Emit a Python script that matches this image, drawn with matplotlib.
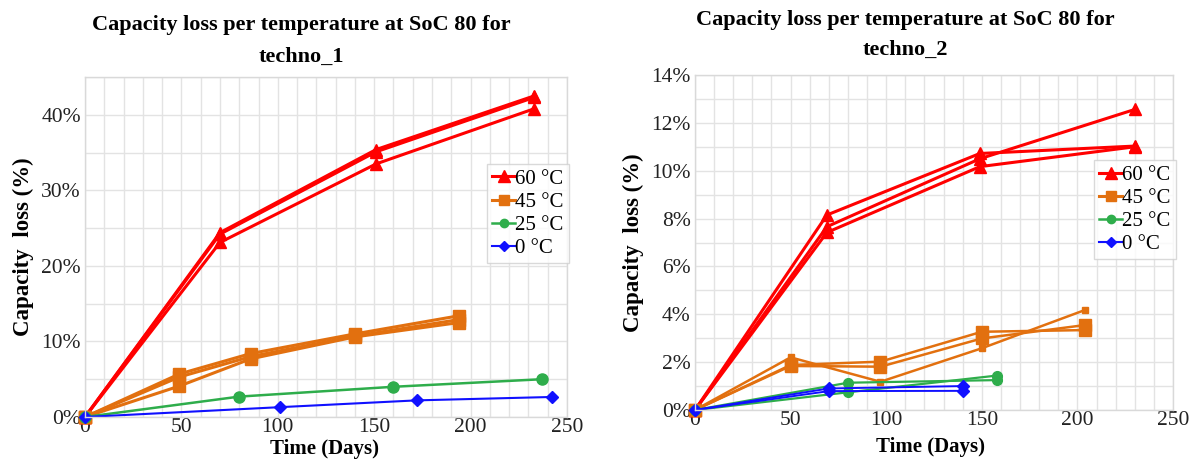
import matplotlib
matplotlib.use("Agg")
import matplotlib.pyplot as plt
from matplotlib.ticker import MultipleLocator, FuncFormatter
from matplotlib.lines import Line2D

plt.rcParams['font.family'] = ['Liberation Serif', 'DejaVu Serif']

# ---------------- data: techno_1 ----------------
t1_60_days = [0, 70, 151, 233]
t1_60_a = [0.0, 24.4, 35.4, 42.5]
t1_60_b = [0.0, 24.2, 35.1, 42.3]
t1_60_c = [0.0, 23.1, 33.5, 40.8]

t1_45_days = [0, 49, 86, 140, 194]
t1_45_a = [0.0, 5.7, 8.4, 11.0, 13.4]
t1_45_b = [0.0, 5.3, 8.0, 10.7, 12.9]
t1_45_c = [0.0, 4.1, 7.7, 10.6, 12.5]

t1_25_days = [0, 80, 160, 237]
t1_25 = [0.0, 2.7, 4.0, 5.0]

t1_0_days = [0, 101, 172, 242]
t1_0 = [0.0, 1.3, 2.2, 2.65]

# ---------------- data: techno_2 ----------------
t2_60_days = [0, 69, 149, 230]
t2_60_a = [0.0, 8.15, 10.72, 11.03]
t2_60_b = [0.0, 7.66, 10.50, 12.56]
t2_60_c = [0.0, 7.42, 10.17, 11.00]

t2_45_days = [0, 50, 97, 150, 204]
t2_45_a = [0.0, 1.88, 2.02, 3.27, 3.34]
t2_45_b = [0.0, 1.84, 1.81, 2.99, 3.55]
t2_45_c = [0.0, 2.20, 1.18, 2.58, 4.18]

t2_25_days = [0, 80, 158]
t2_25_a = [0.0, 1.14, 1.25]
t2_25_b = [0.0, 0.74, 1.44]

t2_0_days = [0, 70, 140]
t2_0_a = [0.0, 0.90, 1.00]
t2_0_b = [0.0, 0.79, 0.80]

legend_labels = ["60 °C", "45 °C", "25 °C", "0 °C"]
titles = ["Capacity loss per temperature at SoC 80 for\ntechno_1",
          "Capacity loss per temperature at SoC 80 for\ntechno_2"]
x_title = "Time (Days)"
y_title = "Capacity  loss (%)"

RED = "#FF0000"
ORANGE = "#E2700F"
GREEN = "#2EAD4B"
BLUE = "#1010FF"
GRID = "#E3E3E3"

W, H = 1189, 461
fig = plt.figure(figsize=(W / 100, H / 100), dpi=100)


def px_axes(x0, x1, ytop, ybot):
    return fig.add_axes([x0 / W, 1 - ybot / H, (x1 - x0) / W, (ybot - ytop) / H])


def style(ax, ymax, ymajor, yminor):
    ax.set_xlim(0, 250)
    ax.set_ylim(0, ymax)
    ax.xaxis.set_major_locator(MultipleLocator(50))
    ax.xaxis.set_minor_locator(MultipleLocator(10))
    ax.yaxis.set_major_locator(MultipleLocator(ymajor))
    ax.yaxis.set_minor_locator(MultipleLocator(yminor))
    ax.yaxis.set_major_formatter(FuncFormatter(lambda v, p: f"{v:.0f}%"))
    ax.grid(True, which='both', color=GRID, linewidth=1.0)
    ax.set_axisbelow(True)
    for s in ax.spines.values():
        s.set_color("#D9D9D9")
        s.set_linewidth(1.0)
    ax.tick_params(which='both', length=0, labelsize=15.5, pad=3, colors="#222222")
    ax.tick_params(axis='x', pad=1)
    ax.set_ylabel(y_title, fontsize=16.5, fontweight='bold', labelpad=5)


def add_legend(ax, bbox):
    handles = [
        Line2D([], [], color=RED, lw=2.2, marker='^', ms=8),
        Line2D([], [], color=ORANGE, lw=2.2, marker='s', ms=7),
        Line2D([], [], color=GREEN, lw=1.8, marker='o', ms=6),
        Line2D([], [], color=BLUE, lw=1.5, marker='D', ms=5),
    ]
    leg = ax.legend(handles, legend_labels, loc='upper left', bbox_to_anchor=bbox,
                    bbox_transform=fig.transFigure, fontsize=15, frameon=True,
                    fancybox=False, edgecolor="#D0D0D0", handlelength=1.1,
                    handletextpad=0.0, labelspacing=0.17, borderpad=0.25,
                    borderaxespad=0)
    leg.get_frame().set_linewidth(1.0)


# ---------------- left chart ----------------
ax1 = px_axes(85, 567, 77, 417)
style(ax1, 45, 10, 5)
for ys in (t1_60_a, t1_60_b, t1_60_c):
    ax1.plot(t1_60_days, ys, color=RED, lw=2.2, marker='^', ms=8, clip_on=False)
for ys in (t1_45_a, t1_45_b, t1_45_c):
    ax1.plot(t1_45_days, ys, color=ORANGE, lw=2.2, marker='s', ms=8, clip_on=False)
ax1.plot(t1_25_days, t1_25, color=GREEN, lw=1.8, marker='o', ms=8, clip_on=False)
ax1.plot(t1_0_days, t1_0, color=BLUE, lw=1.5, marker='D', ms=6, clip_on=False)
fig.text(301 / W, 1 - 41 / H, titles[0], ha='center', va='center', fontsize=16,
         fontweight='bold', linespacing=1.75)
fig.text(325 / W, 1 - 449 / H, x_title, ha='center', va='center', fontsize=15,
         fontweight='bold')
add_legend(ax1, (487 / W, 1 - 164 / H))

# ---------------- right chart ----------------
ax2 = px_axes(695, 1173, 75, 410)
style(ax2, 14, 2, 1)
for ys in (t2_60_a, t2_60_b, t2_60_c):
    ax2.plot(t2_60_days, ys, color=RED, lw=2.2, marker='^', ms=8, clip_on=False)
for ys, ms in zip((t2_45_a, t2_45_b, t2_45_c), (8, 8, 5)):
    ax2.plot(t2_45_days, ys, color=ORANGE, lw=1.8, marker='s', ms=ms, clip_on=False)
for ys in (t2_25_a, t2_25_b):
    ax2.plot(t2_25_days, ys, color=GREEN, lw=1.6, marker='o', ms=7, clip_on=False)
for ys in (t2_0_a, t2_0_b):
    ax2.plot(t2_0_days, ys, color=BLUE, lw=1.4, marker='D', ms=6, clip_on=False)
fig.text(905 / W, 1 - 35 / H, titles[1], ha='center', va='center', fontsize=16,
         fontweight='bold', linespacing=1.7)
fig.text(930 / W, 1 - 447 / H, x_title, ha='center', va='center', fontsize=15,
         fontweight='bold')
add_legend(ax2, (1094 / W, 1 - 160 / H))

fig.savefig("out.png", dpi=100)
